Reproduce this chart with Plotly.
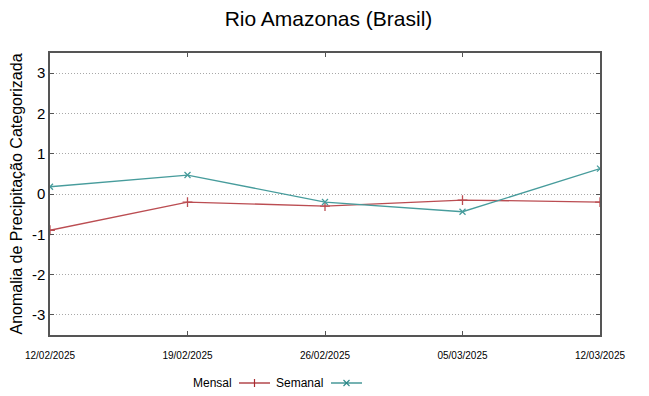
import plotly.graph_objects as go

dates = ["2025-02-12", "2025-02-19", "2025-02-26", "2025-03-05", "2025-03-12"]
tick_labels = ["12/02/2025", "19/02/2025", "26/02/2025", "05/03/2025", "12/03/2025"]
mensal = [-0.90, -0.20, -0.30, -0.15, -0.20]
semanal = [0.18, 0.47, -0.20, -0.44, 0.63]
y_ticks = [-3, -2, -1, 0, 1, 2, 3]
y_tick_labels = ["-3", "-2", "-1", "0", "1", "2", "3"]

RED = "#bb4d52"
TEAL = "#479c9c"
RED_LEG = "#a82a30"
TEAL_LEG = "#2a8888"
FRAME = "#555555"
FONT = "Liberation Sans, Arial, sans-serif"

OFF = 8  # page body margin offset
W, H = 649 - OFF, 396 - OFF
L, R, T, B = 50 - OFF, 49, 53 - OFF, 61

fig = go.Figure()
fig.add_trace(go.Scatter(
    x=dates, y=mensal, mode="lines+markers", name="Mensal",
    line=dict(color=RED, width=1.3),
    marker=dict(symbol="cross-thin", size=7, line=dict(color=RED, width=1.3)),
    showlegend=False))
fig.add_trace(go.Scatter(
    x=dates, y=semanal, mode="lines+markers", name="Semanal",
    line=dict(color=TEAL, width=1.3),
    marker=dict(symbol="x-thin", size=6, line=dict(color=TEAL, width=1.3)),
    showlegend=False))

fig.update_layout(
    width=W, height=H,
    margin=dict(l=L, r=R, t=T, b=B, autoexpand=False),
    paper_bgcolor="white", plot_bgcolor="white",
    font=dict(family=FONT, color="#000000"),
    title=dict(text="Rio Amazonas (Brasil)", x=0.5, xanchor="center",
               y=1 - (19 - OFF) / H, yanchor="middle", yref="container",
               font=dict(size=21, color="#000000")),
    showlegend=False,
)
fig.update_xaxes(
    range=[dates[0], dates[-1]], type="date",
    tickvals=dates, ticktext=tick_labels,
    tickfont=dict(size=10, color="#000000"),
    ticks="inside", ticklen=4, tickcolor=FRAME, tickwidth=1,
    showline=True, linecolor=FRAME, linewidth=1.5, mirror="ticks",
    showgrid=False, zeroline=False, ticklabelstandoff=10, automargin=False,
)
fig.update_yaxes(
    range=[-3.5, 3.5], tickvals=y_ticks, ticktext=y_tick_labels,
    tickfont=dict(size=15, color="#000000"),
    ticks="inside", ticklen=4, tickcolor=FRAME, tickwidth=1,
    showline=True, linecolor=FRAME, linewidth=1.5, mirror="ticks",
    showgrid=True, gridcolor="#a8a8a8", griddash="1px,2px", gridwidth=1,
    zeroline=False, automargin=False,
    title=dict(text="Anomalia de Precipitação Categorizada",
               font=dict(size=16, color="#000000"), standoff=5),
)

PW = W - L - R
PH = H - T - B
def px_x(px):  # screen px -> paper
    return (px - OFF - L) / PW
def px_y(py):
    return (H - B - (py - OFF)) / PH

LY = 383
legend_items = [("Mensal", RED_LEG, 234, 239, 270, "plus"),
                ("Semanal", TEAL_LEG, 325, 331, 362, "x")]
for name, col, text_right, x0, x1, sym in legend_items:
    fig.add_annotation(text=name, x=px_x(text_right), y=px_y(LY), xref="paper", yref="paper",
                       xanchor="right", yanchor="middle", showarrow=False,
                       font=dict(size=12, color="#000000", family=FONT))
    fig.add_shape(type="line", xref="paper", yref="paper",
                  x0=px_x(x0), x1=px_x(x1), y0=px_y(LY), y1=px_y(LY),
                  line=dict(color=col, width=1.3))
    cx = (x0 + x1) / 2
    if sym == "plus":
        fig.add_shape(type="line", xref="paper", yref="paper",
                      x0=px_x(cx), x1=px_x(cx), y0=px_y(LY - 4), y1=px_y(LY + 4),
                      line=dict(color=col, width=1.2))
    else:
        fig.add_shape(type="line", xref="paper", yref="paper",
                      x0=px_x(cx - 3), x1=px_x(cx + 3), y0=px_y(LY - 3), y1=px_y(LY + 3),
                      line=dict(color=col, width=1.1))
        fig.add_shape(type="line", xref="paper", yref="paper",
                      x0=px_x(cx - 3), x1=px_x(cx + 3), y0=px_y(LY + 3), y1=px_y(LY - 3),
                      line=dict(color=col, width=1.1))

fig.write_html("out.html")
